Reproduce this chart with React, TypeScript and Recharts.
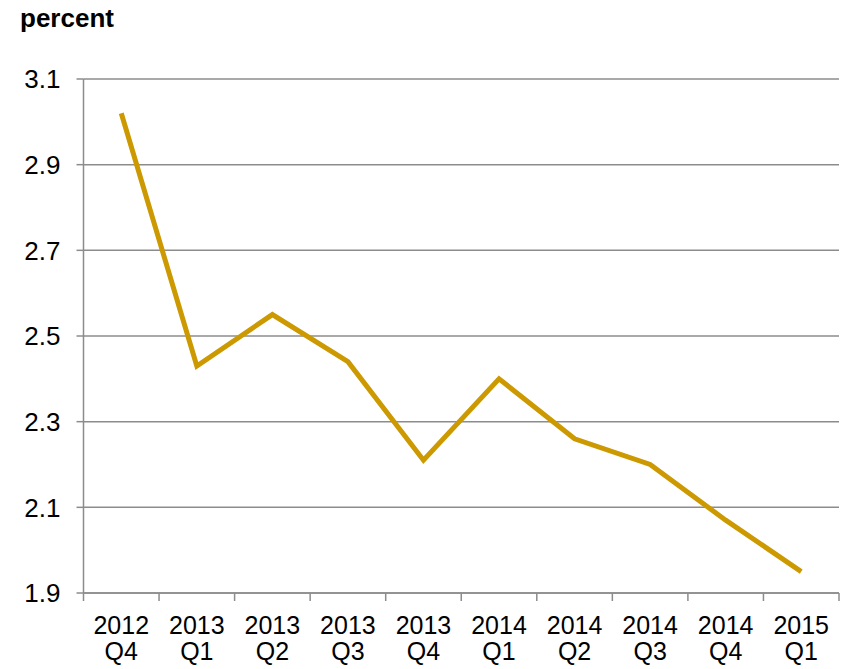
import React from 'react'
import { LineChart, Line, XAxis, YAxis, CartesianGrid } from 'recharts'

// quarterly values
const categories = ['2012 Q4', '2013 Q1', '2013 Q2', '2013 Q3', '2013 Q4', '2014 Q1', '2014 Q2', '2014 Q3', '2014 Q4', '2015 Q1']
const values = [3.02, 2.43, 2.55, 2.44, 2.21, 2.4, 2.26, 2.2, 2.07, 1.95]
const yTicks = [1.9, 2.1, 2.3, 2.5, 2.7, 2.9, 3.1]

const GRID = '#8c8c8c'
const FONT = '"Liberation Sans", Arial, sans-serif'

const data = categories.map((label, idx) => ({ idx, label, value: values[idx] }))

// labels sit on whole indices, tick marks on the half steps between them
const xTicks = categories.flatMap((_, i) => [i - 0.5, i]).concat(categories.length - 0.5)

function QuarterTick(props: any) {
  const { x, y, payload } = props
  const v = payload.value
  if (!Number.isInteger(v)) {
    return <line x1={x} x2={x} y1={y} y2={y + 8} stroke={GRID} strokeWidth={1.5} />
  }
  const [year, q] = categories[v].split(' ')
  return (
    <g>
      <text x={x} y={y + 41} textAnchor="middle" fontSize={25} fontFamily={FONT} fill="#000">
        {year}
      </text>
      <text x={x} y={y + 67} textAnchor="middle" fontSize={25} fontFamily={FONT} fill="#000">
        {q}
      </text>
    </g>
  )
}

export default function App() {
  return (
    <div style={{ position: 'absolute', left: 0, top: 0, width: 844, height: 669, background: '#fff' }}>
      <div
        style={{
          position: 'absolute',
          left: 20,
          top: 5,
          fontFamily: FONT,
          fontWeight: 'bold',
          fontSize: 26,
          lineHeight: '26px',
        }}
      >
        percent
      </div>
      <LineChart width={844} height={669} data={data} margin={{ top: 79, right: 5, bottom: 0, left: 0 }}>
        <CartesianGrid vertical={false} stroke={GRID} strokeWidth={1.5} />
        <XAxis
          dataKey="idx"
          type="number"
          domain={[-0.5, categories.length - 0.5]}
          ticks={xTicks}
          interval={0}
          height={76}
          tickLine={false}
          tickSize={0}
          tickMargin={0}
          axisLine={{ stroke: GRID, strokeWidth: 1.5 }}
          tick={<QuarterTick />}
        />
        <YAxis
          domain={[1.9, 3.1]}
          ticks={yTicks}
          interval={0}
          width={83.5}
          tickSize={7}
          tickMargin={16}
          tickLine={{ stroke: GRID, strokeWidth: 1.5 }}
          axisLine={{ stroke: GRID, strokeWidth: 1.5 }}
          tick={{ fill: '#000', fontSize: 26, fontFamily: FONT }}
          tickFormatter={(v: number) => v.toFixed(1)}
        />
        <Line
          dataKey="value"
          type="linear"
          stroke="#cc9900"
          strokeWidth={5}
          dot={false}
          isAnimationActive={false}
        />
      </LineChart>
    </div>
  )
}
